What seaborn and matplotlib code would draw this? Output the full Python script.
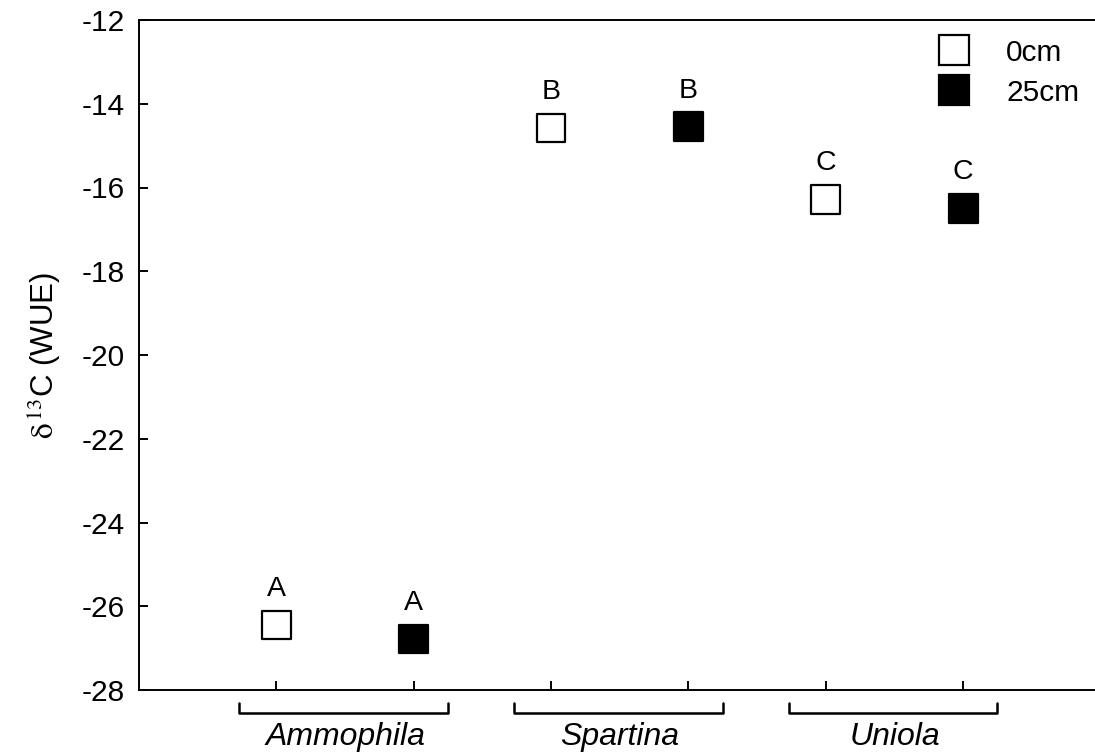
import pandas as pd
import matplotlib.pyplot as plt
import seaborn as sns
from matplotlib.lines import Line2D

# Valores
species = ['Ammophila', 'Spartina', 'Uniola']
depths = ['0cm', '25cm']
positions = [1, 2, 3, 4, 5, 6]
species_col = ['Ammophila', 'Ammophila', 'Spartina', 'Spartina', 'Uniola', 'Uniola']
depth_col = ['0cm', '25cm', '0cm', '25cm', '0cm', '25cm']
d13c = [-26.45, -26.78, -14.58, -14.55, -16.28, -16.5]
letters = ['A', 'A', 'B', 'B', 'C', 'C']
yticks = [-12, -14, -16, -18, -20, -22, -24, -26, -28]

df = pd.DataFrame({'pos': positions, 'Especie': species_col,
                   'Profundidade': depth_col, 'd13C': d13c})

sns.set_theme(style="white")
plt.rcParams['font.family'] = ['Liberation Sans', 'DejaVu Sans']
plt.rcParams['mathtext.fontset'] = 'stix'
plt.rcParams['text.color'] = 'black'
plt.rcParams['axes.labelcolor'] = 'black'
plt.rcParams['xtick.color'] = 'black'
plt.rcParams['ytick.color'] = 'black'

fig = plt.figure(figsize=(10.95, 7.56), dpi=100)
ax = fig.add_axes([139 / 1095, 1 - 690 / 756, 1 - 139 / 1095, (690 - 20) / 756])

palette = {'0cm': 'white', '25cm': 'black'}
sns.scatterplot(data=df, x='pos', y='d13C', hue='Profundidade', palette=palette,
                marker='s', s=430, edgecolor='black', linewidth=1.6, legend=False,
                ax=ax, zorder=3)

# Letras de significância
for x, y, lab in zip(positions, d13c, letters):
    ax.annotate(lab, (x, y), xytext=(0, 26), textcoords='offset points',
                ha='center', va='center', fontsize=20.5)

ax.set_xlim(0, 6.96)
ax.set_ylim(-28, -12)
ax.set_yticks(yticks)
ax.set_yticklabels([str(t) for t in yticks], fontsize=21.5)
ax.set_xticks(positions)
ax.set_xticklabels([])
ax.tick_params(axis='both', direction='in', length=6.5, width=1.4, color='black',
               bottom=True, left=True, top=False, right=False)
ax.tick_params(axis='y', pad=10)
ax.set_xlabel('')
ax.set_ylabel(r'$\mathrm{\delta}^{\,13}$C (WUE)', fontsize=22.5, labelpad=13)

for side in ['left', 'bottom', 'top']:
    ax.spines[side].set_linewidth(1.4)
    ax.spines[side].set_color('black')
ax.spines['right'].set_visible(False)

# Colchetes dos grupos
for i, name in enumerate(species):
    c = 1.5 + 2 * i
    x0, x1 = c - 0.77, c + 0.75
    ax.plot([x0, x0, x1, x1], [-28.32, -28.55, -28.55, -28.32], color='black',
            lw=1.8, clip_on=False)
    ax.text(c, -29.12, name, ha='center', va='center', fontsize=23,
            style='italic')

# Legenda
handles = [Line2D([], [], marker='s', ls='', markersize=21, markerfacecolor=palette[d],
                  markeredgecolor='black', markeredgewidth=1.6, label=d) for d in depths]
ax.legend(handles=handles, loc='upper left', bbox_to_anchor=(921 / 1095, 1 - 24 / 756),
          bbox_transform=fig.transFigure, frameon=False, fontsize=21.5,
          handletextpad=1.15, labelspacing=0.4, borderpad=0, handlelength=1.2)

plt.savefig('out.png', dpi=100)
